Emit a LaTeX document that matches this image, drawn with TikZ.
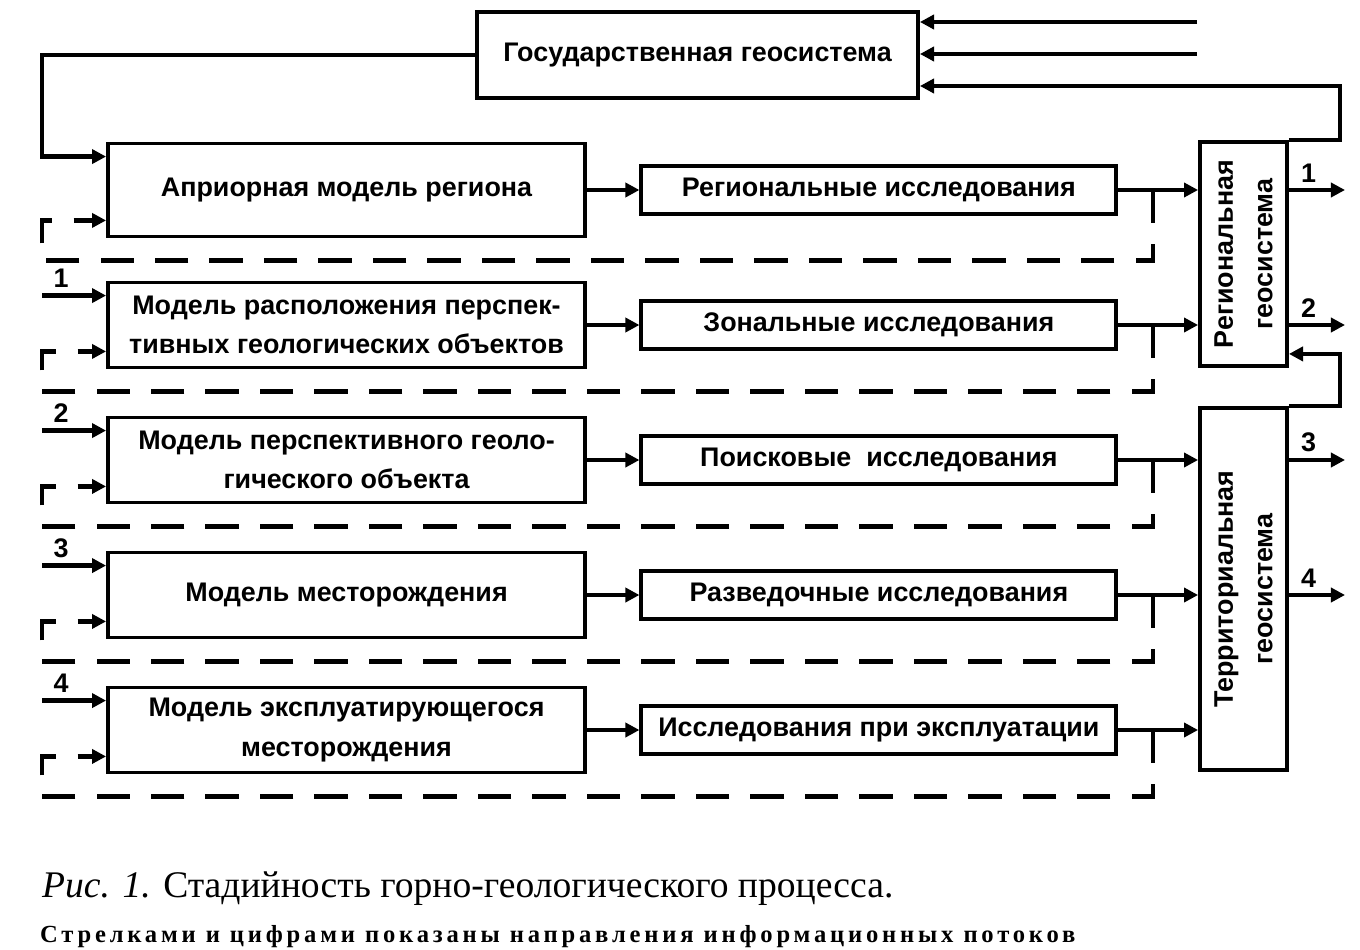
\documentclass[tikz,border=0pt]{standalone}
\usepackage{fontspec}
\setmainfont{Liberation Serif}
\setsansfont{Liberation Sans}
\usetikzlibrary{arrows.meta}
\usetikzlibrary{positioning}

\begin{document}
\begin{tikzpicture}[>={Triangle[length=8pt,width=8pt]},line width=2.4pt,node distance=2.7cm,
    every node/.style={font=\sffamily\bfseries\fontsize{15.3}{22.5}\selectfont},
    model node/.style={rectangle,draw,line width=2.2pt,minimum width=9.54cm,minimum height=1.7cm,align=center},
    study node/.style={rectangle,draw,line width=2.2pt,minimum width=9.5cm,minimum height=0.96cm},
    geo node/.style={rectangle,draw,line width=2.2pt,minimum width=1.74cm},
    back/.style={dash pattern=on 19pt off 12pt}]

  \useasboundingbox (0,0) rectangle (27.2,-19);

  \node[model node,minimum width=8.82cm,minimum height=1.72cm] (state) at (13.95,-1.1) {Государственная геосистема};

  \node[model node,minimum height=1.86cm] (m1) at (6.93,-3.8) {Априорная модель региона};
  \node[model node] (m2) [below of=m1] {Модель расположения перспек-\\тивных геологических объектов};
  \node[model node] (m3) [below of=m2] {Модель перспективного геоло-\\гического объекта};
  \node[model node] (m4) [below of=m3] {Модель месторождения};
  \node[model node] (m5) [below of=m4] {Модель эксплуатирующегося\\месторождения};

  \node[study node] (r1) [right=1.05cm of m1] {Региональные исследования};
  \node[study node] (r2) [right=1.05cm of m2] {Зональные исследования};
  \node[study node] (r3) [right=1.05cm of m3] {Поисковые\ \ исследования};
  \node[study node] (r4) [right=1.05cm of m4] {Разведочные исследования};
  \node[study node] (r5) [right=1.05cm of m5] {Исследования при эксплуатации};

  \node[geo node,minimum height=4.48cm] (reg) at (24.87,-5.08) {};
  \node[rotate=90,align=center] (regtext) at (reg) {Региональная\\геосистема};
  \node[geo node,minimum height=7.24cm] (terr) at (24.87,-11.78) {};
  \node[rotate=90,align=center] (terrtext) at (terr) {Территориальная\\геосистема};

  % free ends
  \coordinate (in1) at (23.94,-0.44);
  \coordinate (in2) at (23.94,-1.08);
  \coordinate (lx) at (0.84,0);
  \coordinate (tx) at (23.06,0);
  \coordinate (bx) at (26.8,0);
  \coordinate (ox) at (26.9,0);

  % state geosystem
  \draw[->] (in1) -- (in1 -| state.east);
  \draw[->] (in2) -- (in2 -| state.east);
  \draw[->] (reg.north east) -- (reg.north east -| bx) |- ([yshift=-0.62cm]state.east);
  \draw[->] (terr.north east) -- (terr.north east -| bx) |- ([yshift=0.28cm]reg.south east);
  \draw[->] (state.west) -- (state.west -| lx) |- ([yshift=-0.3cm]m1.north west);

  % rows
  \foreach \i/\g in {1/reg,2/reg,3/terr,4/terr,5/terr} {
    \coordinate (d\i) at ([yshift=-0.44cm]m\i.south);
    \draw[->] (m\i) -- (r\i);
    \draw[->] (r\i.east) -- (r\i.east -| \g.west);
    \draw[->,back] (r\i.east -| tx) -- (d\i -| tx) -- (d\i -| lx) |- ([yshift=0.36cm]m\i.south west);
  }
  \foreach \i/\n in {2/1,3/2,4/3,5/4} {
    \coordinate (a\i) at ([yshift=-0.3cm]m\i.north west);
    \draw[->] (a\i -| lx) -- node[above,pos=.3] {\n} (a\i);
  }

  % outputs
  \foreach \i/\g in {1/reg,2/reg,3/terr,4/terr}
    \draw[->] (r\i.east -| \g.east) -- node[above,pos=.35] {\i} (r\i.east -| ox);

  \node[anchor=base west,inner sep=0,font=\rmfamily\fontsize{21.4}{25}\selectfont] (cap) at (0.8,-17.94)
    {\textit{Рис. 1.} Стадийность горно-геологического процесса.};
  \node[anchor=base west,inner sep=0,font=\rmfamily\bfseries\fontsize{14}{17}\selectfont\addfontfeature{LetterSpace=15.5}] (note) at (0.76,-18.84)
    {Стрелками и цифрами показаны направления информационных потоков};
\end{tikzpicture}
\end{document}
